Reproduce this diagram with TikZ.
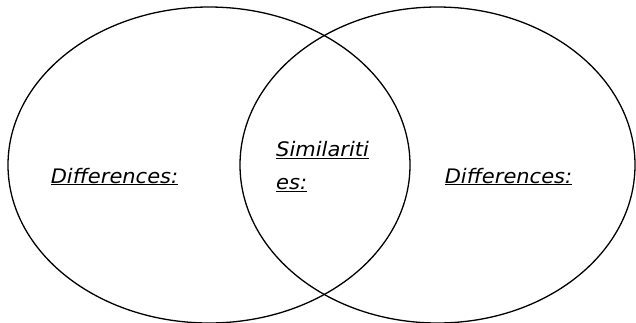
\documentclass[tikz,border=0pt]{standalone}
\usepackage{fontspec}
\newfontfamily\vennfont{DejaVu Sans}[FakeStretch=1.05]
\usetikzlibrary{shapes.geometric}

\begin{document}
\begin{tikzpicture}[
  x=1pt,y=-1pt,
  font=\vennfont\itshape\fontsize{20}{32.6}\selectfont,
  circ/.style={draw,ellipse,line width=1.3pt,inner sep=0pt},
  label/.style={inner sep=0pt,align=left}
]
\useasboundingbox (0,0) rectangle (636,322);
\node[circ,minimum width=402pt,minimum height=316pt] (leftset) at (209,165) {};
\node[circ,minimum width=395pt,minimum height=316pt] (rightset) at (437.5,165) {};
\node[label,anchor=base] (leftdiff) at (114.5,183) {\underline{Differences:}};
\node[label,anchor=base] (rightdiff) at (508.5,183) {\underline{Differences:}};
\node[label,anchor=base west] (simil) at (276,189.3)
 {\underline{Similariti}\\\underline{es:}};
\end{tikzpicture}
\end{document}
